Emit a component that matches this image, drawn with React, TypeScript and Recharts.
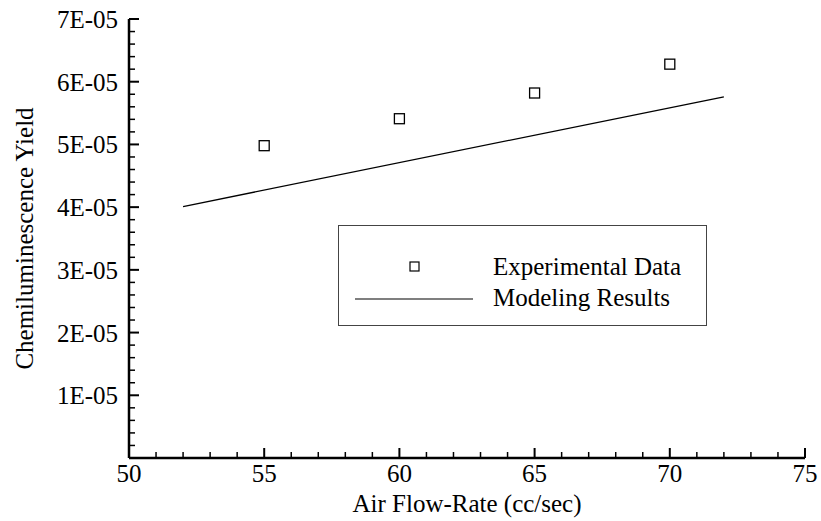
import React from 'react';
import { ComposedChart, XAxis, YAxis, Scatter, Line, Legend } from 'recharts';

// Measured chemiluminescence yield vs. air flow-rate
const flowRates = [55, 60, 65, 70];
const measuredYield = [4.98e-5, 5.41e-5, 5.82e-5, 6.28e-5];

// Model prediction (straight line between its end points)
const modelFlowRates = [52, 72];
const modelYield = [4.01e-5, 5.76e-5];

// Axis ticks and labels
const xMajorTicks = [50, 55, 60, 65, 70, 75];
const xTickLabels = ['50', '55', '60', '65', '70', '75'];
const yMajorTicks = [0, 1e-5, 2e-5, 3e-5, 4e-5, 5e-5, 6e-5, 7e-5];
const yTickLabels = ['', '1E-05', '2E-05', '3E-05', '4E-05', '5E-05', '6E-05', '7E-05'];
const MINOR_DIVS = 5;

const FONT = "'Liberation Serif', 'Times New Roman', Times, serif";
const FS = 25;

const subdivide = (majors: number[]) => {
  const out: number[] = [];
  for (let k = 0; k < majors.length - 1; k++) {
    const step = (majors[k + 1] - majors[k]) / MINOR_DIVS;
    for (let j = 0; j < MINOR_DIVS; j++) out.push(majors[k] + j * step);
  }
  out.push(majors[majors.length - 1]);
  return out;
};

const xTicks = subdivide(xMajorTicks);
const yTicks = subdivide(yMajorTicks);

const measured = flowRates.map((x, i) => ({ x, y: measuredYield[i] }));
const model = modelFlowRates.map((x, i) => ({ x, y: modelYield[i] }));

const XTick = (props: any) => {
  const { x, y, index } = props;
  const major = index % MINOR_DIVS === 0;
  const len = major ? 10 : 6;
  return (
    <g>
      <line x1={x} x2={x} y1={y} y2={y - len} stroke="#000" strokeWidth={major ? 2 : 1.5} />
      {major && (
        <text x={x} y={y + 24} textAnchor="middle" fontFamily={FONT} fontSize={FS} fill="#000">
          {xTickLabels[index / MINOR_DIVS]}
        </text>
      )}
    </g>
  );
};

const YTick = (props: any) => {
  const { x, y, index } = props;
  const major = index % MINOR_DIVS === 0;
  const len = major ? 10 : 6;
  const label = major ? yTickLabels[index / MINOR_DIVS] : '';
  return (
    <g>
      <line x1={x} x2={x + len} y1={y} y2={y} stroke="#000" strokeWidth={major ? 2 : 1.5} />
      {label && (
        <text x={x - 11} y={y + 9} textAnchor="end" fontFamily={FONT} fontSize={FS} fill="#000">
          {label}
        </text>
      )}
    </g>
  );
};

const SquareMarker = (props: any) => {
  const { cx, cy } = props;
  if (cx == null || cy == null) return null;
  return <rect x={cx - 5} y={cy - 5} width={10} height={10} fill="#fff" stroke="#000" strokeWidth={1.3} />;
};

const LegendBox = () => (
  <div
    style={{
      width: 369,
      height: 101,
      boxSizing: 'border-box',
      border: '1.5px solid #444',
      background: '#fff',
    }}
  >
    <svg width={366} height={98} style={{ display: 'block' }}>
      <rect x={71} y={36} width={9} height={9} fill="#fff" stroke="#000" strokeWidth={1.2} />
      <text x={154} y={49} fontFamily={FONT} fontSize={FS} fill="#000">
        Experimental Data
      </text>
      <line x1={16} x2={134} y1={73} y2={73} stroke="#000" strokeWidth={1.2} />
      <text x={154} y={80} fontFamily={FONT} fontSize={FS} fill="#000">
        Modeling Results
      </text>
    </svg>
  </div>
);

export default function App() {
  return (
    <div style={{ position: 'absolute', left: 0, top: 0, background: '#fff' }}>
      <ComposedChart
        width={821}
        height={521}
        margin={{ top: 19, right: 16, bottom: 0, left: 9 }}
      >
        <XAxis
          type="number"
          dataKey="x"
          domain={[50, 75]}
          ticks={xTicks}
          interval={0}
          allowDataOverflow
          height={63}
          tickSize={0}
          tickMargin={0}
          tickLine={false}
          axisLine={{ stroke: '#000', strokeWidth: 2.5 }}
          tick={<XTick />}
          label={{
            content: (p: any) => {
              const vb = p.viewBox || {};
              return (
                <text
                  x={vb.x + vb.width / 2}
                  y={512}
                  textAnchor="middle"
                  fontFamily={FONT}
                  fontSize={FS}
                  fill="#000"
                >
                  Air Flow-Rate (cc/sec)
                </text>
              );
            },
          }}
        />
        <YAxis
          type="number"
          dataKey="y"
          domain={[0, 7e-5]}
          ticks={yTicks}
          interval={0}
          allowDataOverflow
          width={120}
          tickSize={0}
          tickMargin={0}
          tickLine={false}
          axisLine={{ stroke: '#000', strokeWidth: 2.5 }}
          tick={<YTick />}
          label={{
            content: (p: any) => {
              const vb = p.viewBox || {};
              const cy = vb.y + vb.height / 2;
              return (
                <text
                  x={33}
                  y={cy}
                  transform={`rotate(-90 33 ${cy})`}
                  textAnchor="middle"
                  fontFamily={FONT}
                  fontSize={FS}
                  fill="#000"
                >
                  Chemiluminescence Yield
                </text>
              );
            },
          }}
        />
        <Line
          data={model}
          dataKey="y"
          type="linear"
          stroke="#000"
          strokeWidth={1.3}
          dot={false}
          activeDot={false}
          isAnimationActive={false}
        />
        <Scatter
          data={measured}
          dataKey="y"
          shape={<SquareMarker />}
          isAnimationActive={false}
        />
        <Legend
          layout="vertical"
          align="center"
          verticalAlign="middle"
          wrapperStyle={{ left: 338, top: 225, width: 369, height: 101 }}
          content={() => <LegendBox />}
        />
      </ComposedChart>
    </div>
  );
}
